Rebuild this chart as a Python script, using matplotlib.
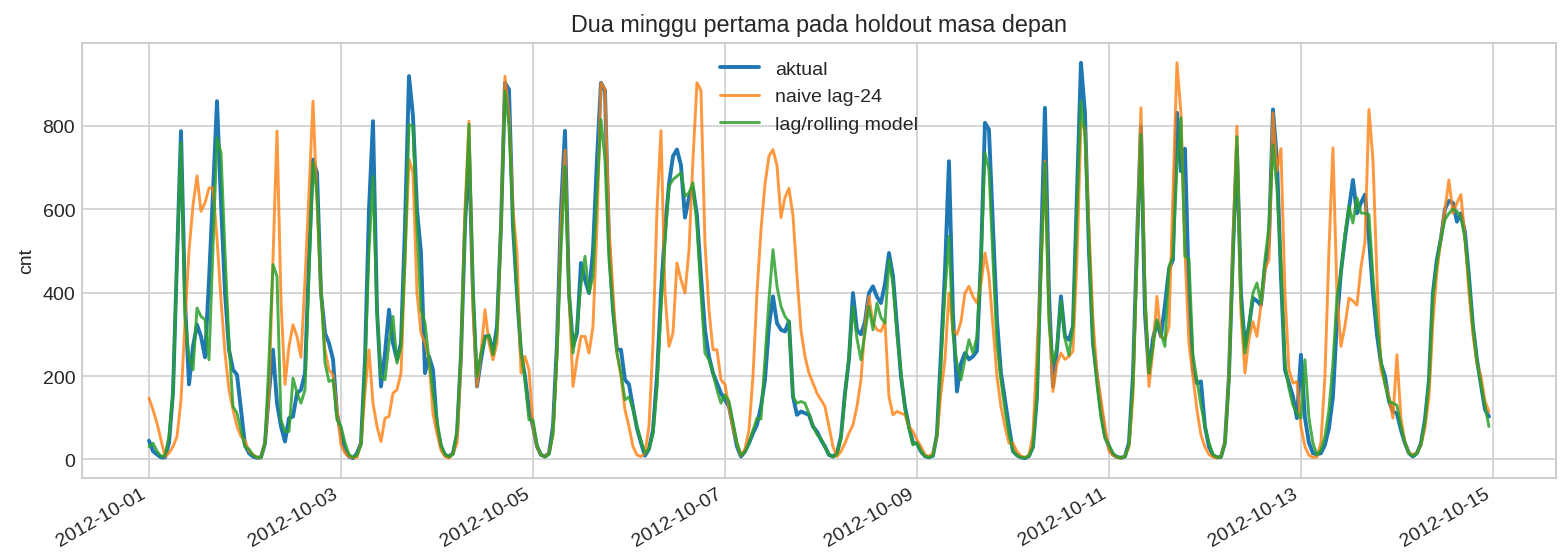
import matplotlib
matplotlib.use("Agg")
import matplotlib.pyplot as plt
import matplotlib.dates as mdates
import pandas as pd

# hourly cnt, 2012-09-30 (only needed for the lag-24 baseline on the first day)
sep30 = [147, 119, 87, 47, 7, 15, 31, 55, 143, 330, 500, 610, 680, 595, 615, 651, 651, 530, 383, 255, 167, 119, 79, 55]

# actual hourly cnt, 2012-10-01 .. 2012-10-14
actual_days = [
    [45, 20, 12, 5, 5, 40, 160, 480, 787, 380, 180, 271, 323, 295, 245, 430, 640, 859, 615, 400, 263, 215, 203, 119],
    [35, 15, 7, 4, 5, 39, 160, 263, 135, 79, 43, 99, 103, 159, 167, 207, 479, 719, 687, 399, 303, 279, 240, 110],
    [63, 23, 7, 3, 15, 39, 239, 599, 811, 359, 175, 255, 359, 279, 239, 279, 559, 919, 823, 599, 495, 207, 247, 215],
    [79, 31, 11, 7, 15, 60, 250, 560, 742, 399, 175, 239, 295, 295, 255, 319, 559, 903, 887, 559, 399, 255, 199, 119],
    [79, 31, 11, 7, 15, 79, 279, 599, 788, 399, 271, 303, 471, 431, 399, 500, 719, 903, 885, 519, 359, 263, 263, 191],
    [180, 125, 75, 40, 9, 25, 70, 199, 399, 550, 660, 727, 743, 705, 580, 628, 650, 585, 440, 310, 247, 207, 183, 159],
    [143, 127, 79, 31, 7, 19, 39, 63, 83, 127, 191, 319, 391, 327, 311, 307, 331, 151, 107, 115, 111, 107, 79, 67],
    [47, 31, 11, 7, 15, 55, 159, 239, 399, 310, 300, 330, 399, 415, 390, 375, 420, 495, 440, 320, 199, 127, 79, 39],
    [39, 19, 8, 5, 9, 60, 257, 450, 715, 350, 163, 230, 255, 240, 247, 260, 479, 807, 791, 559, 335, 207, 143, 79],
    [20, 10, 5, 3, 8, 30, 150, 500, 843, 399, 175, 263, 391, 295, 287, 319, 639, 951, 830, 500, 279, 199, 119, 59],
    [30, 12, 6, 4, 7, 40, 200, 520, 799, 350, 207, 290, 330, 295, 370, 455, 479, 831, 691, 745, 400, 215, 183, 187],
    [79, 31, 10, 5, 6, 40, 200, 500, 747, 399, 271, 320, 387, 380, 370, 460, 520, 839, 719, 439, 215, 183, 151, 99],
    [251, 100, 40, 15, 12, 15, 35, 75, 150, 330, 450, 530, 600, 670, 590, 615, 635, 530, 400, 300, 230, 200, 140, 115],
    [110, 71, 39, 15, 7, 15, 39, 95, 190, 400, 480, 530, 600, 620, 615, 570, 590, 545, 440, 320, 240, 180, 120, 103],
]

# lag/rolling model predictions, same hours
model_days = [
    [31, 39, 20, 7, 10, 55, 159, 480, 760, 340, 247, 215, 363, 343, 335, 239, 511, 771, 735, 495, 279, 127, 111, 71],
    [30, 25, 10, 5, 5, 39, 240, 467, 439, 95, 67, 67, 195, 160, 135, 167, 450, 711, 639, 407, 231, 187, 191, 95],
    [80, 40, 12, 5, 10, 35, 220, 500, 679, 351, 199, 191, 279, 343, 231, 271, 479, 803, 799, 559, 359, 327, 239, 159],
    [95, 35, 12, 6, 12, 70, 260, 560, 803, 399, 199, 255, 291, 299, 251, 303, 559, 883, 799, 575, 399, 263, 191, 95],
    [95, 35, 12, 6, 12, 60, 250, 500, 703, 399, 255, 319, 420, 487, 399, 439, 639, 815, 719, 479, 359, 255, 207, 143],
    [150, 120, 80, 45, 15, 25, 60, 170, 359, 520, 655, 671, 679, 687, 631, 639, 663, 559, 399, 255, 239, 207, 167, 135],
    [155, 140, 90, 40, 10, 18, 40, 70, 99, 97, 239, 383, 503, 415, 367, 343, 330, 150, 135, 139, 135, 110, 80, 60],
    [50, 30, 12, 6, 12, 50, 150, 250, 367, 290, 239, 303, 367, 311, 375, 340, 327, 479, 420, 300, 210, 120, 75, 35],
    [40, 20, 8, 5, 9, 60, 230, 400, 535, 300, 230, 191, 240, 287, 255, 295, 470, 735, 695, 479, 279, 190, 120, 60],
    [20, 10, 5, 4, 8, 30, 150, 450, 711, 330, 230, 270, 380, 290, 250, 320, 600, 859, 780, 520, 279, 180, 100, 50],
    [35, 15, 6, 4, 7, 35, 180, 480, 779, 399, 207, 271, 335, 303, 271, 463, 487, 700, 819, 487, 480, 250, 190, 130],
    [80, 40, 12, 5, 6, 38, 190, 480, 774, 380, 255, 319, 399, 423, 375, 479, 560, 754, 650, 470, 230, 170, 130, 111],
    [99, 239, 99, 39, 11, 23, 55, 119, 230, 390, 447, 540, 607, 567, 627, 591, 590, 587, 440, 330, 239, 180, 140, 135],
    [130, 80, 40, 15, 8, 15, 35, 90, 190, 390, 470, 530, 575, 590, 600, 595, 580, 530, 430, 320, 235, 180, 130, 79],
]

actual = [v for day in actual_days for v in day]
model = [v for day in model_days for v in day]
# naive lag-24 = the actual count 24 hours earlier
naive = sep30 + [v for day in actual_days[:-1] for v in day]

hours = pd.date_range("2012-10-01", periods=len(actual), freq="h")

plt.style.use("seaborn-v0_8-whitegrid")
plt.rcParams["font.family"] = ["Liberation Sans", "DejaVu Sans"]

fig, ax = plt.subplots(figsize=(11.2, 4.007), dpi=140)

ax.plot(hours, actual, color="tab:blue", lw=2.0, label="aktual")
ax.plot(hours, naive, color="tab:orange", lw=1.5, alpha=0.8, label="naive lag-24")
ax.plot(hours, model, color="tab:green", lw=1.5, alpha=0.85, label="lag/rolling model")

ax.set_title("Dua minggu pertama pada holdout masa depan")
ax.set_ylabel("cnt")
ax.xaxis.set_major_locator(mdates.DayLocator(bymonthday=range(1, 32, 2)))
ax.xaxis.set_major_formatter(mdates.DateFormatter("%Y-%m-%d"))
ax.legend(loc="upper center")
fig.autofmt_xdate()
fig.subplots_adjust(left=0.0523, right=0.9923, bottom=0.1462, top=0.9216)

fig.savefig("out.png", dpi=140)
